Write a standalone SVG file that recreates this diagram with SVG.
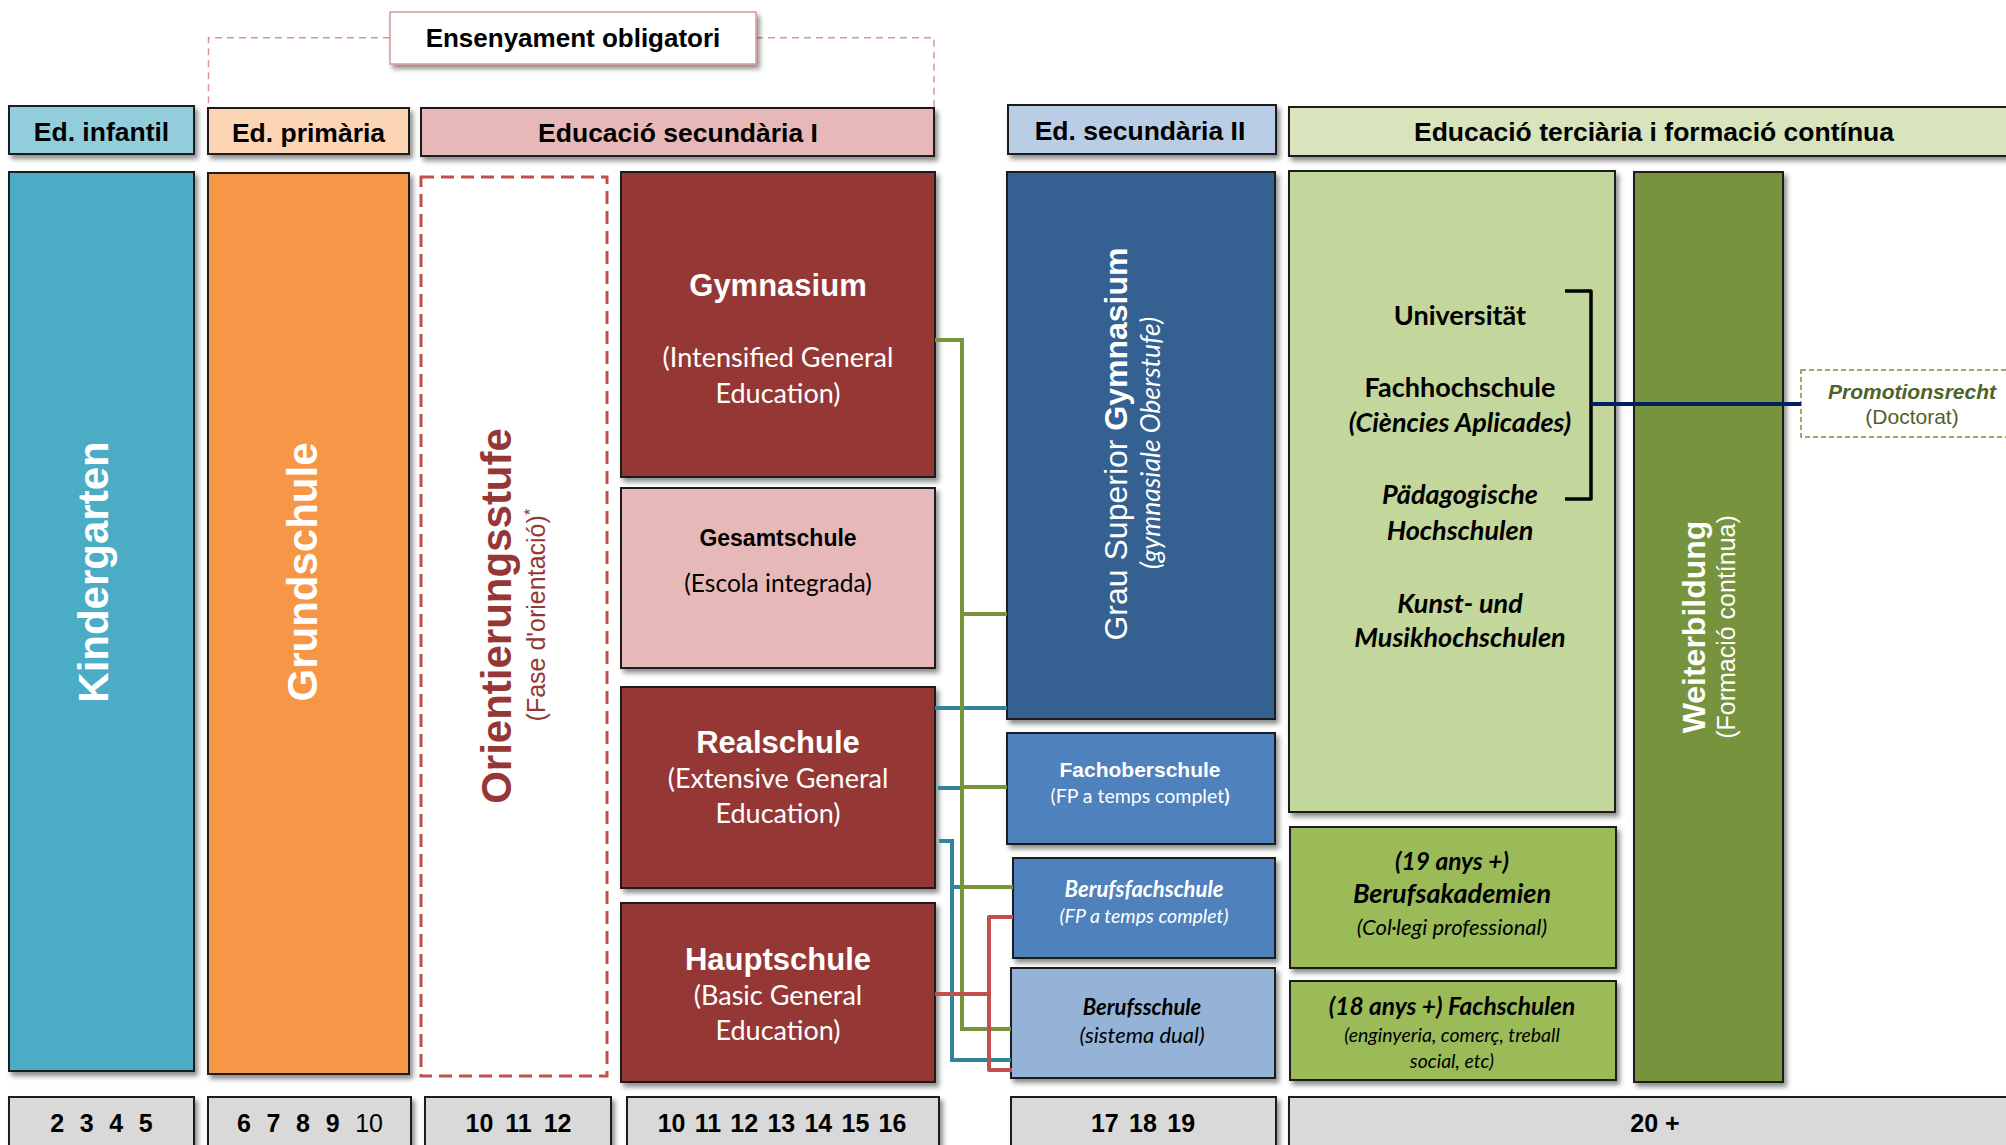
<svg xmlns="http://www.w3.org/2000/svg" width="2006" height="1145" viewBox="0 0 2006 1145">
<defs>
<filter id="sh" x="-20%" y="-20%" width="150%" height="150%">
<feDropShadow dx="3" dy="4" stdDeviation="2.5" flood-color="#000" flood-opacity="0.45"/>
</filter>
<style>
.box{stroke:#1a1a1a;stroke-width:2;filter:url(#sh)}
.ar{font-family:'Liberation Sans',Arial,sans-serif}
.ca{font-family:Lato,'Open Sans',sans-serif}
.b{font-weight:bold}
.i{font-style:italic}
.w{fill:#fff}
.k{fill:#000}
.mid{text-anchor:middle}
.hd{font-family:'Liberation Sans',Arial,sans-serif;font-weight:bold;font-size:26.5px;text-anchor:middle;fill:#000}
.age{font-family:'Liberation Sans',Arial,sans-serif;font-weight:bold;font-size:25px;text-anchor:middle;fill:#000}
.cg{fill:none;stroke:#77933c;stroke-width:4}
.ct{fill:none;stroke:#31849b;stroke-width:4}
.cr{fill:none;stroke:#c0504d;stroke-width:4;stroke-linejoin:round}
</style>
</defs>
<rect width="2006" height="1145" fill="#fff"/>

<g id="compulsory">
<path d="M390,37.7 H208.5 V108 M756,37.7 H934 V108" fill="none" stroke="#d99694" stroke-width="1.5" stroke-dasharray="7,5"/>
<rect x="390" y="12" width="366" height="52" fill="#fff" stroke="#d99694" stroke-width="1.5" filter="url(#sh)"/>
<text x="573" y="47" class="ar b k mid" font-size="26">Ensenyament obligatori</text>
</g>

<g id="headers">
<g id="h-infantil"><rect class="box" x="9" y="106" width="185" height="48" fill="#92cddc"/><text class="hd" x="101.5" y="141">Ed. infantil</text></g>
<g id="h-primaria"><rect class="box" x="208" y="108" width="201" height="46" fill="#fcd5b4"/><text class="hd" x="308.5" y="142">Ed. primària</text></g>
<g id="h-sec1"><rect class="box" x="421" y="108" width="513" height="48" fill="#e6b9b8"/><text class="hd" x="678" y="142">Educació secundària I</text></g>
<g id="h-sec2"><rect class="box" x="1008" y="105" width="268" height="49" fill="#b9cde5"/><text class="hd" x="1140" y="140">Ed. secundària II</text></g>
<g id="h-ter"><rect class="box" x="1289" y="107" width="725" height="49" fill="#d7e4bc"/><text class="hd" x="1654" y="141">Educació terciària i formació contínua</text></g>
</g>

<g id="kindergarten"><rect class="box" x="9" y="172" width="185" height="899" fill="#4bacc6"/>
<text class="ar b w mid" font-size="42" transform="translate(108,572) rotate(-90)">Kindergarten</text></g>

<g id="grundschule"><rect class="box" x="208" y="173" width="201" height="901" fill="#f79646"/>
<text class="ar b w mid" font-size="42" transform="translate(317,572) rotate(-90)">Grundschule</text></g>

<g id="orientierung"><rect x="421" y="177" width="186" height="899" fill="#fff" stroke="#c0504d" stroke-width="3" stroke-dasharray="13,7"/>
<text class="ar b mid" fill="#953735" font-size="42" transform="translate(511,616) rotate(-90)">Orientierungsstufe</text>
<text class="ar mid" fill="#953735" font-size="25" transform="translate(545,615) rotate(-90)">(Fase d'orientació)<tspan font-size="17" dy="-9">*</tspan></text></g>

<g id="gymnasium"><rect class="box" x="621" y="172" width="314" height="305" fill="#953735"/>
<text class="ar b w mid" font-size="31" x="778" y="296">Gymnasium</text>
<text class="ca w mid" font-size="27" x="778" y="367">(Intensified General</text>
<text class="ca w mid" font-size="27" x="778" y="403">Education)</text></g>

<g id="gesamtschule"><rect class="box" x="621" y="488" width="314" height="180" fill="#e6b9b8"/>
<text class="ar b k mid" font-size="23" x="778" y="546">Gesamtschule</text>
<text class="ca k mid" font-size="24.5" x="778" y="592">(Escola integrada)</text></g>

<g id="realschule"><rect class="box" x="621" y="687" width="314" height="201" fill="#953735"/>
<text class="ar b w mid" font-size="31" x="778" y="753">Realschule</text>
<text class="ca w mid" font-size="27" x="778" y="788">(Extensive General</text>
<text class="ca w mid" font-size="27" x="778" y="823">Education)</text></g>

<g id="hauptschule"><rect class="box" x="621" y="903" width="314" height="179" fill="#953735"/>
<text class="ar b w mid" font-size="31" x="778" y="970">Hauptschule</text>
<text class="ca w mid" font-size="27" x="778" y="1005">(Basic General</text>
<text class="ca w mid" font-size="27" x="778" y="1040">Education)</text></g>

<g id="oberstufe"><rect class="box" x="1007" y="172" width="268" height="547" fill="#366092"/>
<text class="ar w mid" font-size="32" transform="translate(1127,444) rotate(-90)">Grau Superior <tspan font-weight="bold">Gymnasium</tspan></text>
<text class="ca i w mid" font-size="26.5" transform="translate(1160,443) rotate(-90)">(gymnasiale Oberstufe)</text></g>

<g id="fachoberschule"><rect class="box" x="1007" y="733" width="268" height="111" fill="#4f81bd"/>
<text class="ar b w mid" font-size="21" x="1140" y="777">Fachoberschule</text>
<text class="ca w mid" font-size="19.5" x="1140" y="803">(FP a temps complet<tspan font-weight="bold">)</tspan></text></g>

<g id="berufsfachschule"><rect class="box" x="1013" y="858" width="262" height="100" fill="#4f81bd"/>
<text class="ca b i w mid" font-size="22" x="1144" y="897">Berufsfachschule</text>
<text class="ca i w mid" font-size="19.5" x="1144" y="923">(FP a temps complet)</text></g>

<g id="berufsschule"><rect class="box" x="1011" y="968" width="264" height="110" fill="#95b3d7"/>
<text class="ca b i k mid" font-size="22" x="1142" y="1015">Berufsschule</text>
<text class="ca i k mid" font-size="22" x="1142" y="1043">(sistema dual)</text></g>

<g id="hochschulen"><rect class="box" x="1289" y="171" width="326" height="641" fill="#c3d69b"/>
<text class="ca b k mid" font-size="27" x="1460" y="325">Universität</text>
<text class="ca b k mid" font-size="27" x="1460" y="397">Fachhochschule</text>
<text class="ca b i k mid" font-size="27" x="1460" y="432">(Ciències Aplicades)</text>
<text class="ca b i k mid" font-size="27" x="1460" y="504">Pädagogische</text>
<text class="ca b i k mid" font-size="27" x="1460" y="540">Hochschulen</text>
<text class="ca b i k mid" font-size="27" x="1460" y="613">Kunst- und</text>
<text class="ca b i k mid" font-size="27" x="1460" y="647">Musikhochschulen</text>
<path d="M1565,291 H1591 V499 H1565" fill="none" stroke="#000" stroke-width="3.5" stroke-linejoin="round"/></g>

<g id="berufsakademien"><rect class="box" x="1290" y="827" width="326" height="141" fill="#9bbb59"/>
<text class="ca b i k mid" font-size="24.5" x="1452" y="870">(19 anys +)</text>
<text class="ca b i k mid" font-size="27" x="1452" y="903">Berufsakademien</text>
<text class="ca i k mid" font-size="22" x="1452" y="935">(Col·legi professional)</text></g>

<g id="fachschulen"><rect class="box" x="1290" y="981" width="326" height="99" fill="#9bbb59"/>
<text class="ca b i k mid" font-size="24.5" x="1452" y="1015">(18 anys +) Fachschulen</text>
<text class="ca i k mid" font-size="19.5" x="1452" y="1042">(enginyeria, comerç, treball</text>
<text class="ca i k mid" font-size="19.5" x="1452" y="1068">social, etc)</text></g>

<g id="weiterbildung"><rect class="box" x="1634" y="172" width="149" height="910" fill="#77933c"/>
<text class="ar b w mid" font-size="32" transform="translate(1705,627) rotate(-90)">Weiterbildung</text>
<text class="ar w mid" font-size="25" transform="translate(1735,627) rotate(-90)">(Formació contínua)</text></g>

<g id="promotionsrecht"><rect x="1801" y="370" width="215" height="67" fill="#fff" stroke="#77933c" stroke-width="1.5" stroke-dasharray="5,3"/>
<text class="ar b i mid" fill="#4f6228" font-size="21" x="1912" y="399">Promotionsrecht</text>
<text class="ar mid" fill="#4f6228" font-size="21" x="1912" y="424">(Doctorat)</text></g>

<g id="ages">
<g id="age1"><rect class="box" x="9" y="1097" width="185" height="55" fill="#d9d9d9"/><text class="age" x="101.5" y="1132" word-spacing="8.7">2 3 4 5</text></g>
<g id="age2"><rect class="box" x="208" y="1097" width="203" height="55" fill="#d9d9d9"/><text class="age" x="310" y="1132" word-spacing="8.7">6 7 8 9 <tspan font-weight="normal">10</tspan></text></g>
<g id="age3"><rect class="box" x="425" y="1097" width="186" height="55" fill="#d9d9d9"/><text class="age" x="518.5" y="1132" word-spacing="5">10 11 12</text></g>
<g id="age4"><rect class="box" x="627" y="1097" width="312" height="55" fill="#d9d9d9"/><text class="age" x="782" y="1132" word-spacing="2.3">10 11 12 13 14 15 16</text></g>
<g id="age5"><rect class="box" x="1011" y="1097" width="265" height="55" fill="#d9d9d9"/><text class="age" x="1143" y="1132" word-spacing="3.4">17 18 19</text></g>
<g id="age6"><rect class="box" x="1289" y="1097" width="725" height="55" fill="#d9d9d9"/><text class="age" x="1655" y="1132">20 +</text></g>
</g>

<g id="connectors">
<path class="ct" d="M935,708 H1007"/>
<path class="ct" d="M938,788 H962"/>
<path class="ct" d="M939,841 H952 V1060 H1011"/>
<path class="ct" d="M952,887 H962"/>
<path class="cg" d="M935,340 H962 V1029 H1011"/>
<path class="cg" d="M962,614 H1007"/>
<path class="cg" d="M962,787 H1007"/>
<path class="cg" d="M962,887 H1013"/>
<path class="cr" d="M935,994 H989"/>
<path class="cr" d="M1013,917 H989 V1070 H1012"/>
<path d="M1591,404 H1801" fill="none" stroke="#002060" stroke-width="4"/>
</g>
</svg>
